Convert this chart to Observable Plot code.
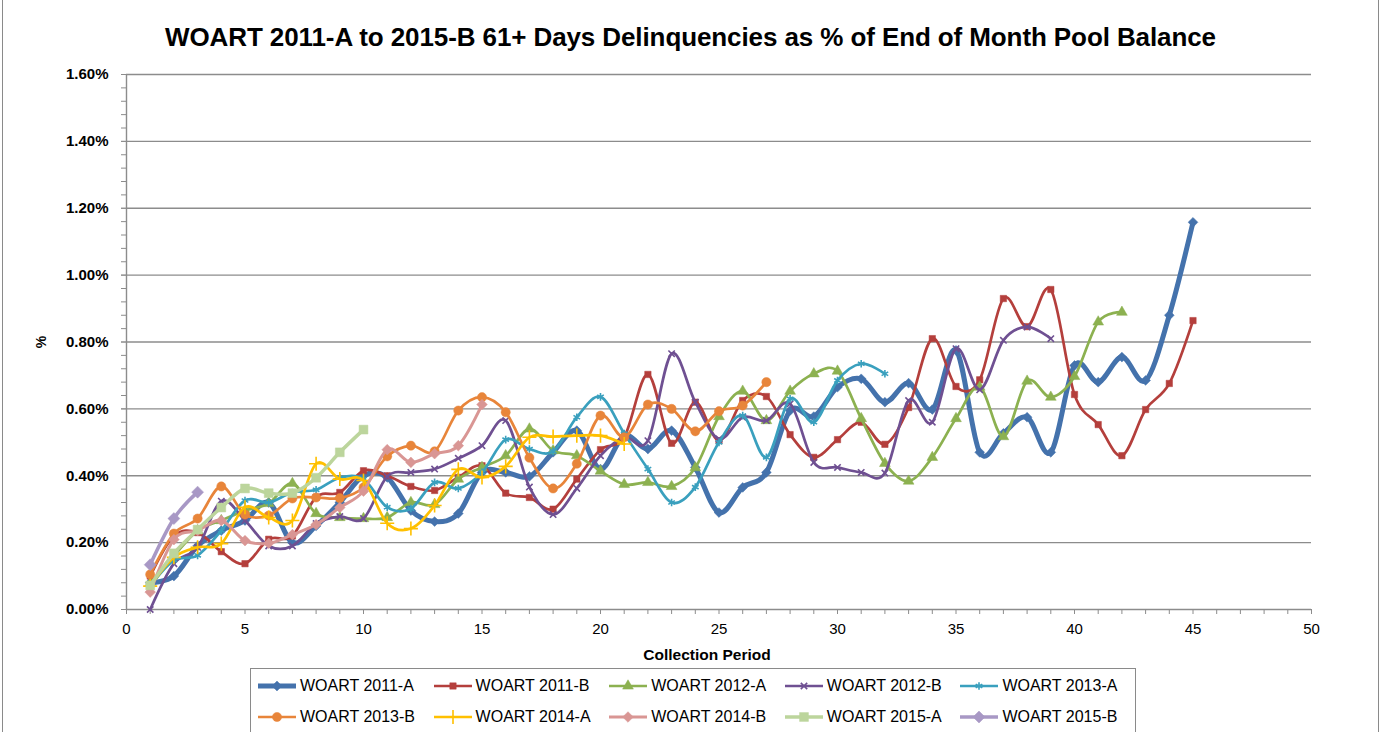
<!DOCTYPE html>
<html>
<head>
<meta charset="utf-8">
<script src="https://cdn.jsdelivr.net/npm/d3@7"></script>
<script src="https://cdn.jsdelivr.net/npm/@observablehq/plot@0.6"></script>
<style>
  html, body { margin: 0; padding: 0; background: #fff; }
  body { width: 1381px; height: 732px; overflow: hidden; position: relative; font-family: "Liberation Sans", Arial, sans-serif; }
  #frame { position: absolute; left: 2px; top: -2px; width: 1375px; height: 740px; border-left: 1px solid #8a8a8a; border-right: 1px solid #8a8a8a; pointer-events: none; }
  #title { height: 55px; box-sizing: border-box; padding-top: 23px; line-height: 28px; text-align: center; font-weight: bold; font-size: 26px; color: #000; letter-spacing: -0.1px; }
  #legend { margin-left: 250px; margin-top: 3px; width: 886px; height: 80px; border: 1px solid #8a8a8a; box-sizing: border-box; padding: 1px 0 0 6px; }
  .row { display: flex; height: 31px; align-items: center; }
  .item { width: 179px; display: flex; align-items: center; font-size: 16px; color: #000; white-space: nowrap; }
  .item svg { margin-right: 3px; }
</style>
</head>
<body>
<div id="frame"></div>
<div id="title">WOART 2011-A to 2015-B 61+ Days Delinquencies as % of End of Month Pool Balance</div>
<div id="chart"></div>
<div id="legend"></div>
<script>
// Series names (legend order)
const seriesNames = ["WOART 2011-A", "WOART 2011-B", "WOART 2012-A", "WOART 2012-B", "WOART 2013-A",
                     "WOART 2013-B", "WOART 2014-A", "WOART 2014-B", "WOART 2015-A", "WOART 2015-B"];

// 61+ day delinquencies, % of pool balance, by collection period (1, 2, 3, ...)
const woart2011A = [0.08,0.10,0.19,0.236,0.266,0.32,0.20,0.25,0.32,0.40,
                    0.395,0.296,0.263,0.287,0.41,0.41,0.398,0.47,0.535,0.42,
                    0.52,0.48,0.535,0.425,0.29,0.365,0.41,0.595,0.577,0.665,
                    0.69,0.62,0.677,0.598,0.775,0.47,0.527,0.575,0.47,0.73,
                    0.68,0.755,0.685,0.88,1.158];
const woart2011B = [0.10,0.22,0.23,0.173,0.137,0.21,0.22,0.336,0.35,0.415,
                    0.40,0.368,0.356,0.395,0.43,0.348,0.335,0.30,0.39,0.478,
                    0.515,0.703,0.497,0.62,0.505,0.625,0.637,0.523,0.455,0.508,
                    0.56,0.494,0.604,0.81,0.667,0.687,0.93,0.846,0.957,0.643,
                    0.553,0.46,0.598,0.676,0.864];
const woart2012A = [0.078,0.16,0.236,0.266,0.296,0.317,0.377,0.287,0.275,0.272,
                    0.275,0.32,0.314,0.39,0.425,0.46,0.54,0.475,0.46,0.414,
                    0.374,0.38,0.368,0.424,0.577,0.653,0.565,0.653,0.705,0.713,
                    0.571,0.437,0.384,0.455,0.571,0.665,0.517,0.683,0.635,0.697,
                    0.86,0.889];
const woart2012B = [0.0,0.137,0.186,0.324,0.266,0.19,0.19,0.257,0.278,0.272,
                    0.398,0.41,0.42,0.452,0.49,0.565,0.366,0.284,0.362,0.46,
                    0.515,0.505,0.765,0.62,0.51,0.575,0.565,0.615,0.44,0.425,
                    0.41,0.408,0.625,0.56,0.78,0.657,0.805,0.845,0.81];
const woart2013A = [0.07,0.147,0.162,0.236,0.326,0.32,0.35,0.358,0.394,0.39,
                    0.306,0.302,0.38,0.362,0.41,0.508,0.48,0.473,0.575,0.636,
                    0.526,0.42,0.32,0.366,0.50,0.58,0.455,0.63,0.56,0.685,
                    0.735,0.705];
const woart2013B = [0.105,0.227,0.272,0.368,0.284,0.281,0.332,0.335,0.333,0.365,
                    0.458,0.49,0.473,0.595,0.635,0.59,0.454,0.362,0.436,0.58,
                    0.515,0.613,0.60,0.533,0.593,0.61,0.68];
const woart2014A = [0.07,0.156,0.186,0.197,0.306,0.275,0.266,0.436,0.39,0.386,
                    0.258,0.242,0.311,0.419,0.395,0.428,0.515,0.517,0.52,0.52,
                    0.495];
const woart2014B = [0.052,0.209,0.236,0.266,0.206,0.198,0.224,0.254,0.305,0.354,
                    0.478,0.44,0.466,0.49,0.613];
const woart2015A = [0.072,0.168,0.239,0.305,0.362,0.348,0.348,0.394,0.47,0.538];
const woart2015B = [0.134,0.272,0.351];

const seriesValues = [woart2011A, woart2011B, woart2012A, woart2012B, woart2013A,
                      woart2013B, woart2014A, woart2014B, woart2015A, woart2015B];

// Axis tick values
const yTicks = [0, 0.2, 0.4, 0.6, 0.8, 1.0, 1.2, 1.4, 1.6];
const xTicks = [0, 5, 10, 15, 20, 25, 30, 35, 40, 45, 50];

// Styles
const styles = [
  {color: "#4472AC", width: 5,   symbol: d3.symbolDiamond2, r: 4.4, filled: true},
  {color: "#B43F3C", width: 2.7, symbol: d3.symbolSquare,   r: 3.6, filled: true},
  {color: "#8CB150", width: 2.7, symbol: d3.symbolTriangle, r: 4.0, filled: true},
  {color: "#6F5092", width: 2.7, symbol: d3.symbolTimes,    r: 3.0, filled: false},
  {color: "#3AA0BE", width: 2.7, symbol: d3.symbolAsterisk, r: 3.6, filled: false},
  {color: "#E8853A", width: 2.7, symbol: d3.symbolCircle,   r: 4.6, filled: true},
  {color: "#FFC000", width: 2.7, symbol: d3.symbolPlus,     r: 4.6, filled: false},
  {color: "#D99694", width: 3.0, symbol: d3.symbolDiamond2, r: 4.8, filled: true},
  {color: "#BCD59C", width: 3.5, symbol: d3.symbolSquare,   r: 5.0, filled: true},
  {color: "#A898C5", width: 3.5, symbol: d3.symbolDiamond2, r: 5.4, filled: true}
];

const rows = seriesNames.map((name, i) => seriesValues[i].map((v, j) => ({series: name, period: j + 1, value: v})));

const marks = [
  Plot.gridY(yTicks.slice(1), {stroke: "#8c8c8c", strokeOpacity: 1, strokeWidth: 1.4}),
  Plot.ruleX([0], {stroke: "#8c8c8c", strokeWidth: 1.4}),
  Plot.ruleY([0], {stroke: "#8c8c8c", strokeWidth: 1.4}),
  Plot.axisY(d3.range(0, 1.6, 0.04), {tickSize: 5, text: null, label: null, stroke: "#8c8c8c", strokeWidth: 1}),
  Plot.axisY(yTicks, {tickSize: 5, tickPadding: 13, tickFormat: d => d.toFixed(2) + "%", fontSize: 15, fontWeight: "bold",
                      stroke: "#8c8c8c", label: "%", labelAnchor: "center", labelArrow: "none", labelOffset: 90}),
  Plot.axisX(d3.range(0, 51, 1), {tickSize: 5, text: null, label: null, stroke: "#8c8c8c", strokeWidth: 1}),
  Plot.axisX(xTicks, {tickSize: 0, tickPadding: 14, fontSize: 15, label: null})
];

rows.forEach((data, i) => {
  const s = styles[i];
  marks.push(Plot.line(data, {x: "period", y: "value", stroke: s.color, strokeWidth: s.width, curve: "cardinal"}));
  marks.push(Plot.dot(data, {x: "period", y: "value", symbol: s.symbol, r: s.r,
    fill: s.filled ? s.color : "none", stroke: s.color, strokeWidth: s.filled ? 0.5 : 1.6}));
});

// x-axis title
marks.push(Plot.text(["Collection Period"], {frameAnchor: "bottom", dy: 50, dx: -12, fontSize: 15.5, fontWeight: "bold", fill: "#000"}));

const chart = Plot.plot({
  width: 1381,
  height: 610,
  marginTop: 19,
  marginBottom: 56,
  marginLeft: 126,
  marginRight: 70,
  style: {fontFamily: "'Liberation Sans', Arial, sans-serif", color: "#000", background: "#fff", overflow: "visible"},
  x: {domain: [0, 50]},
  y: {domain: [0, 1.6]},
  marks
});
chart.querySelectorAll("[aria-label='y-axis label'] text").forEach(t => {
  t.setAttribute("font-weight", "bold");
  t.setAttribute("font-size", "14");
});
document.getElementById("chart").appendChild(chart);

// Legend
const legend = document.getElementById("legend");
for (let r = 0; r < 2; r++) {
  const row = document.createElement("div");
  row.className = "row";
  for (let c = 0; c < 5; c++) {
    const i = r * 5 + c, s = styles[i];
    const item = document.createElement("div");
    item.className = "item";
    const svg = d3.create("svg").attr("width", 40).attr("height", 16);
    svg.append("line").attr("x1", 1).attr("x2", 39).attr("y1", 8).attr("y2", 8)
      .attr("stroke", s.color).attr("stroke-width", s.width);
    svg.append("path").attr("transform", "translate(20,8)")
      .attr("d", d3.symbol(s.symbol, Math.PI * s.r * s.r)())
      .attr("fill", s.filled ? s.color : "none").attr("stroke", s.color).attr("stroke-width", s.filled ? 0.5 : 1.6);
    item.appendChild(svg.node());
    const span = document.createElement("span");
    span.textContent = seriesNames[i];
    item.appendChild(span);
    row.appendChild(item);
  }
  legend.appendChild(row);
}
</script>
</body>
</html>
